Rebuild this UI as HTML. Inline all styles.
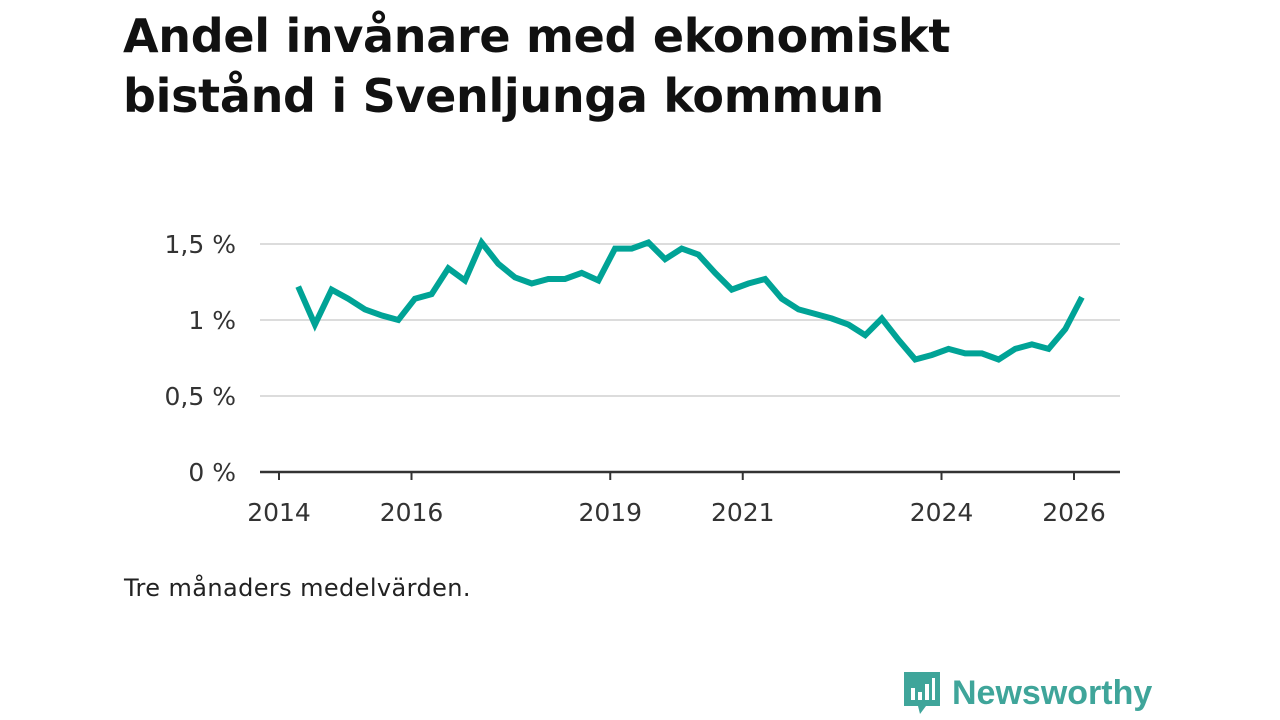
<!DOCTYPE html>
<html><head><meta charset="utf-8"><style>
body{margin:0;width:1280px;height:720px;background:#fff;font-family:"DejaVu Sans","Liberation Sans",sans-serif;overflow:hidden;position:relative}
h1{position:absolute;left:123px;top:6px;margin:0;font-size:46px;line-height:60px;font-weight:bold;color:#111;letter-spacing:-0.3px}
.note{position:absolute;left:124px;top:574px;font-size:24px;letter-spacing:0.4px;color:#222}
.logo{position:absolute;left:902px;top:670px;display:flex;align-items:center}
.logo span{font-family:"Liberation Sans",sans-serif;font-size:34px;font-weight:bold;color:#3fa59a;margin-left:10px}
</style></head><body>
<h1>Andel invånare med ekonomiskt<br>bistånd i Svenljunga kommun</h1>
<svg id="chart" width="1280" height="720" style="position:absolute;left:0;top:0"></svg>
<div class="note">Tre månaders medelvärden.</div>
<div class="logo">
<svg width="40" height="46" viewBox="0 0 40 46"><path d="M2 2h36v34H24l-6 8-2-8H2z" fill="#3fa59a"/><rect x="9" y="18" width="4" height="12" fill="#fff"/><rect x="16" y="22" width="4" height="8" fill="#fff"/><rect x="23" y="14" width="4" height="16" fill="#fff"/><rect x="30" y="8" width="3" height="22" fill="#fff"/></svg>
<span>Newsworthy</span></div>
<script>
const values=[1.22,0.97,1.20,1.14,1.07,1.03,1.00,1.14,1.17,1.34,1.26,1.51,1.37,1.28,1.24,1.27,1.27,1.31,1.26,1.47,1.47,1.51,1.40,1.47,1.43,1.31,1.20,1.24,1.27,1.14,1.07,1.04,1.01,0.97,0.90,1.01,0.87,0.74,0.77,0.81,0.78,0.78,0.74,0.81,0.84,0.81,0.94,1.15];
const startYear=2014.29, stepYear=0.2517;
const yTicks=[0,0.5,1,1.5];
const yTickLabels=["0 %","0,5 %","1 %","1,5 %"];
const xTicks=[2014,2016,2019,2021,2024,2026];
const NS="http://www.w3.org/2000/svg";
const svg=document.getElementById('chart');
const x=y=>279+(y-2014)*66.25;
const yS=v=>472-v*152;
function mk(t,a){const e=document.createElementNS(NS,t);for(const k in a)e.setAttribute(k,a[k]);svg.appendChild(e);return e;}
yTicks.forEach((v,i)=>{
 if(v>0){const g=mk('line',{x1:260,x2:1120,y1:yS(v),y2:yS(v),stroke:'#dcdcdc','stroke-width':2});
 
 }
 const t=mk('text',{x:236,y:yS(v)+9,'text-anchor':'end','font-size':25,fill:'#333','font-family':'DejaVu Sans'});
 t.textContent=yTickLabels[i];
 
 
});
const ax=mk('line',{x1:260,x2:1120,y1:472,y2:472,stroke:'#333','stroke-width':2.5});


xTicks.forEach(yr=>{
 const tk=mk('line',{x1:x(yr),x2:x(yr),y1:472,y2:480,stroke:'#333','stroke-width':2});
 
 
 const t=mk('text',{x:x(yr),y:521,'text-anchor':'middle','font-size':25,fill:'#333','font-family':'DejaVu Sans'});
 t.textContent=yr;
 
 
});
const pts=values.map((v,i)=>x(startYear+i*stepYear).toFixed(1)+','+yS(v).toFixed(1)).join(' ');
const line=mk('polyline',{points:pts,fill:'none',stroke:'#00a396','stroke-width':6,'stroke-linejoin':'miter'});


</script>
</body></html>
